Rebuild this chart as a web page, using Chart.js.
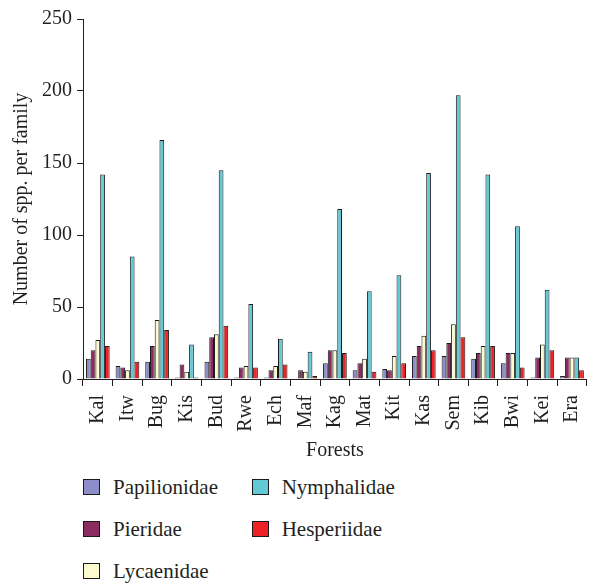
<!DOCTYPE html>
<html>
<head>
<meta charset="utf-8">
<script src="https://cdn.jsdelivr.net/npm/chart.js@4/dist/chart.umd.min.js"></script>
<style>
    body { margin: 0; background: #fff; position: relative; width: 605px; height: 585px; overflow: hidden; }
    .chart-wrap { position: absolute; left: 0; top: 0; width: 605px; height: 470px; }
    .legend {
        position: absolute; left: 83px; top: 479px;
        display: grid; grid-template-columns: 168.7px auto; grid-template-rows: repeat(3, 42px);
        grid-auto-flow: column;
        font-family: 'Liberation Serif', serif; font-size: 21px; color: #231f20;
    }
    .legend__item { display: flex; align-items: center; height: 16px; line-height: 16px; }
    .legend__box { width: 15px; height: 14px; border: 1px solid #1a1a1a; margin-right: 13px; }
</style>
</head>
<body>
<div class="chart-wrap"><canvas id="chart" width="605" height="470"></canvas></div>
<div class="legend" id="legend"></div>
<script>
const FORESTS = ['Kal', 'Itw', 'Bug', 'Kis', 'Bud', 'Rwe', 'Ech', 'Maf', 'Kag', 'Mat', 'Kit', 'Kas', 'Sem', 'Kib', 'Bwi', 'Kei', 'Era'];

const PAPILIONIDAE = [14, 9, 12, 1, 12, 1, 1, 0, 11, 6, 7, 16, 16, 14, 11, 1, 2];
const PIERIDAE = [20, 8, 23, 10, 29, 8, 6, 6, 20, 11, 6, 23, 25, 18, 18, 15, 15];
const LYCAENIDAE = [27, 6, 41, 5, 31, 9, 9, 5, 20, 14, 16, 30, 38, 23, 18, 24, 15];
const NYMPHALIDAE = [142, 85, 166, 24, 145, 52, 28, 19, 118, 61, 72, 143, 197, 142, 106, 62, 15];
const HESPERIIDAE = [23, 12, 34, 1, 37, 8, 10, 2, 18, 5, 11, 20, 29, 23, 8, 20, 6];

const Y_TICKS = [0, 50, 100, 150, 200, 250];

const FONT_FAMILY = "'Liberation Serif', 'Times New Roman', serif";
const TEXT_COLOR = '#231f20';
const BORDER_COLOR = '#1a1a1a';

const series = [
    { label: 'Papilionidae', data: PAPILIONIDAE, color: '#8d8dc9' },
    { label: 'Pieridae', data: PIERIDAE, color: '#8b2b60' },
    { label: 'Lycaenidae', data: LYCAENIDAE, color: '#fdfad2' },
    { label: 'Nymphalidae', data: NYMPHALIDAE, color: '#63c9d4' },
    { label: 'Hesperiidae', data: HESPERIIDAE, color: '#ee2124' },
];

Chart.defaults.font.family = FONT_FAMILY;
Chart.defaults.font.size = 20;
Chart.defaults.color = TEXT_COLOR;

const chartObj = new Chart(document.getElementById('chart'), {
    type: 'bar',
    data: {
        labels: FORESTS,
        datasets: series.map((s) => ({
            label: s.label,
            data: s.data,
            backgroundColor: s.color,
            borderColor: BORDER_COLOR,
            borderWidth: 1,
            categoryPercentage: 0.8,
            barPercentage: 1.0,
        })),
    },
    options: {
        responsive: false,
        animation: false,
        events: [],
        layout: { padding: { top: 19, right: 0, bottom: 0, left: 0 } },
        plugins: {
            legend: { display: false },
            tooltip: { enabled: false },
        },
        scales: {
            x: {
                grid: { display: true, drawOnChartArea: false, offset: true, tickLength: 7, color: TEXT_COLOR },
                border: { color: TEXT_COLOR, width: 1 },
                ticks: { minRotation: 90, maxRotation: 90, padding: 9, autoSkip: false, color: TEXT_COLOR },
                title: { display: true, text: 'Forests', padding: { top: 4, bottom: 7 }, color: TEXT_COLOR },
                afterFit: (scale) => { scale.height = 91; },
            },
            y: {
                min: 0,
                max: 250,
                afterBuildTicks: (scale) => { scale.ticks = Y_TICKS.map((v) => ({ value: v })); },
                grid: { display: true, drawOnChartArea: false, tickLength: 6, color: TEXT_COLOR },
                border: { color: TEXT_COLOR, width: 1 },
                ticks: { padding: 5, color: TEXT_COLOR },
                title: { display: true, text: 'Number of spp. per family', padding: { top: 10, bottom: 4 }, color: TEXT_COLOR },
                afterFit: (scale) => { scale.width = 83; },
            },
        },
    },
});

// legend laid out column-first, like the original figure
const legend = document.getElementById('legend');
chartObj.data.datasets.forEach((ds) => {
    const item = document.createElement('div');
    item.className = 'legend__item';
    const box = document.createElement('span');
    box.className = 'legend__box';
    box.style.background = ds.backgroundColor;
    const text = document.createElement('span');
    text.textContent = ds.label;
    item.appendChild(box);
    item.appendChild(text);
    legend.appendChild(item);
});
</script>
</body>
</html>
